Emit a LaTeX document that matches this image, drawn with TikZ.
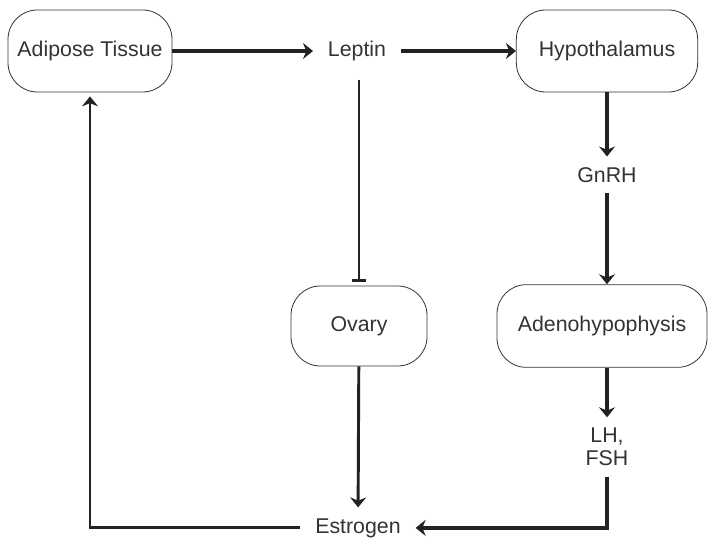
\documentclass[tikz,border=0pt]{standalone}
\usepackage{fontspec}
\setmainfont{Liberation Sans}
\usetikzlibrary{arrows.meta}

\definecolor{inkgray}{HTML}{333333}
\definecolor{linegray}{HTML}{222222}

\begin{document}
\begin{tikzpicture}[
      x=0.75pt, y=-0.75pt,
      font=\fontsize{16}{17}\selectfont,
      organ/.style={rectangle, draw=inkgray, line width=0.6pt, rounded corners=22pt, minimum height=61.5pt, align=center, text=inkgray},
      hormone/.style={inner xsep=11pt, inner ysep=8pt, align=center, text=inkgray},
      arrow/.style={-{Stealth[length=7.5pt, width=12pt, inset=2.5pt]}, line width=3pt, draw=linegray},
      thinarrow/.style={arrow, line width=2.2pt},
      inhibit/.style={-{Bar[width=10pt, line width=2pt]}, line width=2.2pt, draw=linegray}
    ]
    \useasboundingbox (0,0) rectangle (709,538);

    \node[organ, minimum width=123pt] (adipose) at (90,51) {Adipose Tissue};
    \node[hormone] (leptin) at (357,51) {Leptin};
    \node[organ, minimum width=136pt] (hypo) at (607,51) {Hypothalamus};
    \node[hormone] (gnrh) at (607,175) {GnRH};
    \node[organ, minimum width=102pt, minimum height=60pt] (ovary) at (359,326) {Ovary};
    \node[organ, minimum width=157.5pt, minimum height=62pt] (adeno) at (602,326) {Adenohypophysis};
    \node[hormone] (lhfsh) at (607,447) {LH,\\FSH};
    \node[hormone, anchor=base] (estrogen) at (358,533) {Estrogen};

    \draw[arrow] (adipose) -- (leptin);
    \draw[arrow] (leptin) -- (hypo);
    \draw[arrow] (hypo) -- (gnrh);
    \draw[arrow] (gnrh) -- (adeno.north -| gnrh);
    \draw[arrow] (adeno.south -| lhfsh) -- (lhfsh);
    \draw[arrow] (lhfsh.south) |- (estrogen.east);

    \draw[inhibit, shorten <=6pt, shorten >=3pt] (leptin.south -| ovary) -- (ovary.north);
    \draw[thinarrow] (ovary) -- (estrogen);
    \draw[thinarrow, shorten >=3pt] (estrogen.west) -| (adipose.south);
  \end{tikzpicture}
\end{document}
